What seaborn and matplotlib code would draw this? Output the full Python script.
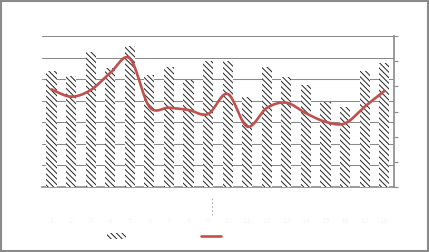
import numpy as np
import pandas as pd
import matplotlib
matplotlib.use("Agg")
import matplotlib.pyplot as plt
import seaborn as sns
from matplotlib.patches import Patch, Rectangle
from matplotlib.lines import Line2D

# ---- data ----
categories = [str(i) for i in range(1, 19)]
bar_values = [53.9, 51.5, 62.7, 55.0, 65.4, 51.8, 55.8, 49.6, 58.4,
              58.4, 41.9, 55.8, 51.1, 47.3, 39.5, 37.2, 53.9, 57.6]
line_values = [3.88, 3.59, 3.85, 4.53, 5.11, 3.19, 3.15, 3.06, 2.90,
               3.70, 2.40, 3.14, 3.35, 2.93, 2.59, 2.53, 3.19, 3.81]
left_ticks = [0, 10, 20, 30, 40, 50, 60, 70]
right_ticks = [0, 1, 2, 3, 4, 5, 6]
bar_label = "Series 1"
line_label = "Series 2"

HATCH = "\\" * 6

sns.set_theme(style="white")
plt.rcParams['font.family'] = ['DejaVu Sans']
plt.rcParams['hatch.linewidth'] = 0.7
plt.rcParams['hatch.color'] = '#222222'

W, H = 429, 252
fig = plt.figure(figsize=(W / 100, H / 100), dpi=100)
ax = fig.add_axes([41.7 / W, 1 - 187 / H, (394 - 41.7) / W, (187 - 36) / H])

df = pd.DataFrame({"cat": categories, "val": bar_values})
sns.barplot(data=df, x="cat", y="val", ax=ax, color="white", width=0.52,
            edgecolor="#222222", linewidth=0, zorder=3)
for p in ax.patches:
    p.set_hatch(HATCH)
    p.set_edgecolor("#222222")
    p.set_linewidth(0)

ax.set_xlim(-0.5, len(categories) - 0.5)
ax.set_ylim(left_ticks[0], left_ticks[-1])
ax.set_yticks(left_ticks)
ax.yaxis.grid(True, color="#8a8a8a", linewidth=0.75, zorder=0)
ax.set_axisbelow(True)
ax.set_xlabel("")
ax.set_ylabel("")
ax.tick_params(axis="y", length=0, labelleft=False)
ax.tick_params(axis="x", length=0, labelsize=5, colors="#f6f6f6", pad=22)
for s in ["left", "top", "right"]:
    ax.spines[s].set_visible(False)
ax.spines["bottom"].set_color("#8a8a8a")
ax.spines["bottom"].set_linewidth(1.2)

# ---- smoothed line on secondary axis ----
ax2 = ax.twinx()
x = np.arange(len(line_values), dtype=float)
y = np.array(line_values)
xs, ys = [], []
n = len(x)
for i in range(n - 1):
    p0 = np.array([x[max(i - 1, 0)], y[max(i - 1, 0)]])
    p1 = np.array([x[i], y[i]])
    p2 = np.array([x[i + 1], y[i + 1]])
    p3 = np.array([x[min(i + 2, n - 1)], y[min(i + 2, n - 1)]])
    c1 = p1 + (p2 - p0) / 6
    c2 = p2 - (p3 - p1) / 6
    t = np.linspace(0, 1, 20)[:, None]
    seg = ((1 - t) ** 3) * p1 + 3 * ((1 - t) ** 2) * t * c1 + 3 * (1 - t) * t ** 2 * c2 + t ** 3 * p2
    xs.extend(seg[:, 0]); ys.extend(seg[:, 1])
ax2.plot(xs, ys, color="#C0504D", linewidth=1.9, solid_capstyle="round", zorder=5)
ax2.set_ylim(right_ticks[0], right_ticks[-1])
ax2.set_yticks(right_ticks)
ax2.tick_params(axis="y", length=3, width=0.8, color="#8a8a8a", labelright=False, direction="out")
ax2.grid(False)
for s in ["left", "top", "bottom"]:
    ax2.spines[s].set_visible(False)
ax2.spines["right"].set_color("#8a8a8a")
ax2.spines["right"].set_linewidth(1.2)

# ---- legend ----
handles = [Patch(facecolor="white", edgecolor="#222222", linewidth=0, hatch=HATCH),
           Line2D([0], [0], color="#C0504D", linewidth=1.9)]
leg = fig.legend(handles, [bar_label, line_label], loc="center",
                 bbox_to_anchor=(186 / W, 1 - 236.5 / H), ncol=2, frameon=False,
                 fontsize=7, handlelength=2.0, handleheight=0.6,
                 handletextpad=0.5, columnspacing=3.2, borderpad=0)
for t in leg.get_texts():
    t.set_color("white")

fig.add_artist(Line2D([211.5 / W, 211.5 / W], [1 - 198 / H, 1 - 215 / H],
                      color="#b0b0b0", linewidth=0.8, linestyle=(0, (1.5, 2))))

# ---- outer frame ----
fig.add_artist(Rectangle((0.8 / W, 0.8 / H), 1 - 1.6 / W, 1 - 1.6 / H,
                         transform=fig.transFigure, fill=False,
                         edgecolor="#8a8a8a", linewidth=1.5))

fig.savefig("out.png", dpi=100)
